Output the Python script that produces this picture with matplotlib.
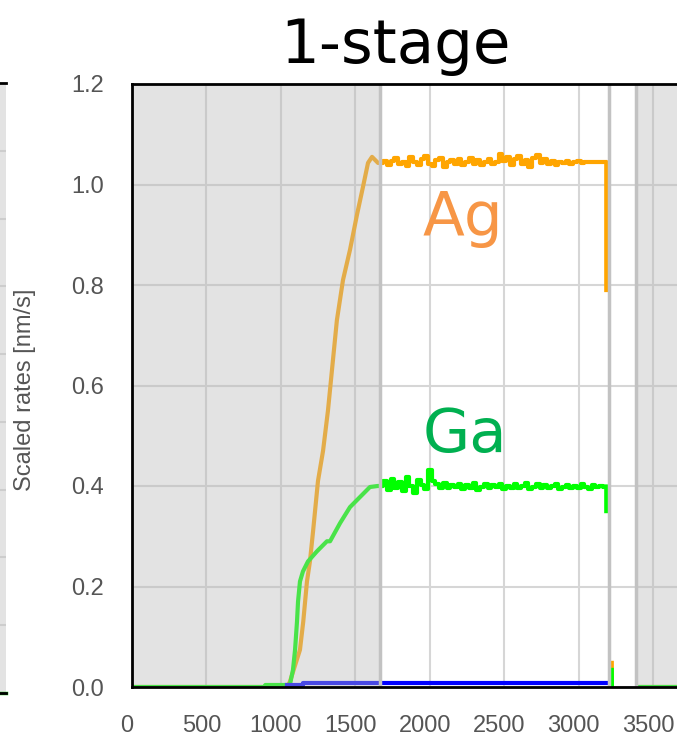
import matplotlib.pyplot as plt
import matplotlib.transforms as mtransforms
import numpy as np

plt.rcParams['font.family'] = ['Liberation Sans', 'DejaVu Sans']

# Ag rate: ramp, plateau (sampled every 25 s from 1675 s), drop
ag_ramp_t = [0, 1040, 1060, 1128, 1150, 1175, 1195, 1216, 1249, 1283, 1316, 1376,
             1417, 1464, 1511, 1551, 1585, 1612, 1652, 1675]
ag_ramp = [0.0, 0.0, 0.01, 0.074, 0.13, 0.21, 0.25, 0.31, 0.41, 0.47, 0.55, 0.73,
           0.81, 0.87, 0.94, 0.995, 1.043, 1.055, 1.043, 1.043]
ag_plat = [1.043, 1.047, 1.038, 1.046, 1.052, 1.040, 1.045, 1.036, 1.054, 1.044,
           1.039, 1.050, 1.057, 1.041, 1.037, 1.048, 1.052, 1.034, 1.044, 1.049,
           1.040, 1.051, 1.038, 1.045, 1.053, 1.041, 1.048, 1.039, 1.044, 1.050,
           1.040, 1.045, 1.060, 1.047, 1.054, 1.038, 1.051, 1.057, 1.041, 1.049,
           1.035, 1.053, 1.058, 1.042, 1.050, 1.040, 1.046, 1.038, 1.045, 1.043,
           1.047, 1.040, 1.044, 1.046, 1.042, 1.045, 1.044, 1.045, 1.044, 1.045,
           1.044]
ag_end_t = [3185, 3185, 3190, 3222, 3223, 3230, 3400, 3700]
ag_end = [1.044, 0.79, np.nan, 0.048, 0.0, np.nan, 0.0, 0.0]

# Ga rate
ga_ramp_t = [0, 890, 895, 1060, 1081, 1095, 1108, 1115, 1128, 1148, 1182, 1242,
             1309, 1330, 1397, 1464, 1531, 1598, 1650, 1675]
ga_ramp = [0.0, 0.0, 0.004, 0.004, 0.034, 0.074, 0.13, 0.17, 0.21, 0.23, 0.25, 0.27,
           0.29, 0.29, 0.326, 0.358, 0.378, 0.398, 0.40, 0.40]
ga_plat = [0.400, 0.410, 0.393, 0.414, 0.396, 0.407, 0.390, 0.417, 0.400, 0.386,
           0.412, 0.402, 0.394, 0.432, 0.410, 0.404, 0.396, 0.405, 0.397, 0.401,
           0.398, 0.404, 0.395, 0.401, 0.397, 0.405, 0.393, 0.399, 0.403, 0.396,
           0.401, 0.398, 0.404, 0.395, 0.400, 0.397, 0.403, 0.396, 0.400, 0.405,
           0.395, 0.399, 0.403, 0.397, 0.401, 0.396, 0.400, 0.404, 0.395, 0.399,
           0.402, 0.397, 0.400, 0.396, 0.403, 0.399, 0.395, 0.401, 0.398, 0.400,
           0.399]
ga_end_t = [3185, 3185, 3190, 3222, 3223, 3230, 3400, 3700]
ga_end = [0.399, 0.35, np.nan, 0.034, 0.0, np.nan, 0.0, 0.0]

# third source, nearly zero
bl_t = [1040, 1150, 1150, 3185]
bl = [0.003, 0.003, 0.008, 0.008]

plat_t = list(range(1675, 3176, 25))

# process phases
shade_spans = [(0, 1666), (3385, 3800)]
phase_lines = [1666, 3200, 3387]

fig = plt.figure(figsize=(6.77, 7.38), dpi=100)

# neighbouring panel, only its right edge shows
ax0 = fig.add_axes([-0.05, 45 / 738, 0.05 + 6 / 677, 610 / 738])
ax0.set_facecolor('#e3e3e3')
ax0.set_ylim(0, 9)
ax0.set_xlim(0, 1)
ax0.set_yticks(range(10))
ax0.set_xticks([])
ax0.grid(axis='y', color='#cdcdcd', linewidth=1.5)
ax0.plot([0, 1], [0, 0], color='#22cc22', linewidth=2.5, clip_on=False)
ax0.tick_params(left=False, labelleft=False)
for s in ['right', 'left']:
    ax0.spines[s].set_visible(False)
for s in ['top', 'bottom']:
    ax0.spines[s].set_linewidth(2)

ax = fig.add_axes([132 / 677, 51 / 738, 545 / 677, 603 / 738])
ax.set_xlim(0, 3660)
ax.set_ylim(0, 1.2)
ax.set_xticks(range(0, 3501, 500))
ax.set_yticks(np.arange(0, 1.21, 0.2))
ax.yaxis.set_major_formatter(plt.FormatStrFormatter('%.1f'))
ax.grid(True, color='#d6d6d6', linewidth=1.5, zorder=0)
ax.set_axisbelow(True)

lw = 3.0
# ramps as lines, plateaus as sampled steps
ax.plot(ag_ramp_t, ag_ramp, color='#ffa500', linewidth=lw, zorder=3)
ax.plot(plat_t, ag_plat, color='#ffa500', linewidth=lw, zorder=3, drawstyle='steps-mid')
ax.plot(ag_end_t, ag_end, color='#ffa500', linewidth=lw, zorder=3)
ax.plot(ga_ramp_t, ga_ramp, color='#00ff00', linewidth=lw, zorder=3)
ax.plot(plat_t, ga_plat, color='#00ff00', linewidth=lw, zorder=3, drawstyle='steps-mid')
ax.plot(ga_end_t, ga_end, color='#00ff00', linewidth=lw, zorder=3)
ax.plot(bl_t, bl, color='#0000ff', linewidth=lw, zorder=3)

for a, b in shade_spans:
    ax.axvspan(a, b, color='#b9b9b9', alpha=0.4, linewidth=0, zorder=4)
for x in phase_lines:
    ax.axvline(x, color='#c2c2c2', linewidth=2.5, zorder=5)

ax.text(1954, 0.90, 'Ag', color='#f79646', fontsize=44, family='DejaVu Sans')
ax.text(1954, 0.468, 'Ga', color='#00b050', fontsize=44, family='DejaVu Sans')

fig.text(396 / 677, 1 - 63 / 738, '1-stage', ha='center', va='baseline',
         fontsize=44, family='DejaVu Sans')
fig.text(25 / 677, 1 - 390 / 738, 'Scaled rates [nm/s]', rotation=90,
         ha='center', va='center', fontsize=17, color='#555555')

ax.tick_params(length=0, labelsize=17, labelcolor='#555555')
ax.tick_params(axis='x', pad=20)
ax.tick_params(axis='y', pad=20)
shift = mtransforms.ScaledTranslation(-0.05, 0, fig.dpi_scale_trans)
for lab in ax.get_xticklabels():
    lab.set_transform(lab.get_transform() + shift)

ax.spines['right'].set_visible(False)
for s in ['top', 'bottom', 'left']:
    ax.spines[s].set_linewidth(2)
    ax.spines[s].set_zorder(6)

fig.savefig('out.png', dpi=100)
